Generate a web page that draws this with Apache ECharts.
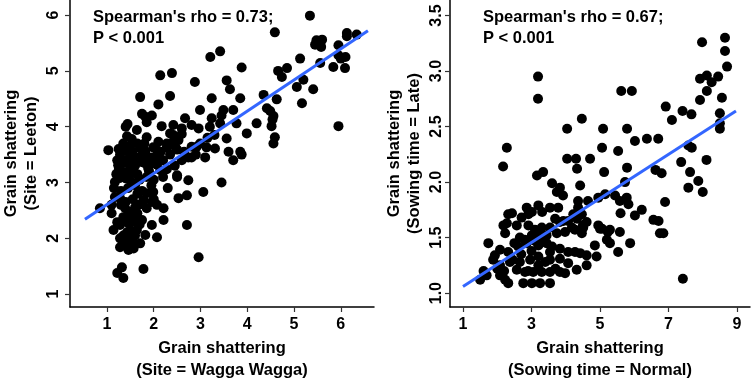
<!DOCTYPE html>
<html>
<head>
<meta charset="utf-8">
<script src="https://cdn.jsdelivr.net/npm/echarts@6/dist/echarts.min.js"></script>
<style>
  html, body { margin: 0; padding: 0; background: #fff; }
  #main { width: 751px; height: 379px; }
</style>
</head>
<body>
<div id="main"></div>
<script>
// left panel: Wagga Wagga (x) vs Leeton (y)
const siteShatter = [
  [5.34,5.99],[4.59,5.69],[6.13,5.68],[6.13,5.62],[6.34,5.65],
  [5.48,5.55],[5.6,5.56],[5.55,5.48],[5.45,5.47],[5.58,5.43],[5.95,5.46],
  [5.95,5.28],[6.1,5.25],[6.0,5.22],[5.56,5.14],[5.84,5.07],[6.09,5.05],
  [3.21,5.25],[3.42,5.35],[5.13,5.22],[3.88,5.06],[4.66,5.0],[4.85,5.05],[4.74,4.89],
  [2.14,4.92],[2.39,4.96],[2.88,4.8],[3.56,4.83],[3.63,4.67],[5.06,4.71],[5.41,4.67],[5.2,4.84],
  [4.35,4.57],[1.71,4.53],[2.35,4.55],[3.24,4.51],[3.85,4.51],[4.63,4.49],[5.17,4.42],[2.1,4.4],
  [2.99,4.3],[3.49,4.3],[3.7,4.3],[4.42,4.33],[4.49,4.28],[4.56,4.19],[4.54,4.13],
  [1.75,4.23],[1.82,4.18],[1.96,4.2],[3.45,4.2],[2.67,4.15],[3.24,4.15],
  [1.44,4.05],[1.4,4.0],[1.85,4.08],[2.17,4.01],[2.42,4.03],[2.81,4.03],[2.96,3.97],[3.2,4.0],
  [3.42,4.06],[3.77,4.06],[4.2,4.06],[4.52,4.01],[5.95,4.01],
  [1.64,3.94],[2.6,3.97],[3.99,3.88],[3.56,3.79],[4.59,3.81],[4.56,3.7],
  [1.43,3.83],[1.53,3.78],[1.85,3.81],[2.35,3.88],[2.42,3.85],[2.6,3.87],[2.1,3.73],[2.28,3.7],
  [2.42,3.73],[2.53,3.76],[2.99,3.7],
  [1.03,3.58],[1.35,3.7],[1.49,3.64],[1.42,3.56],[1.71,3.62],[1.82,3.56],[1.99,3.63],[2.07,3.58],
  [2.28,3.63],[2.46,3.64],[2.5,3.59],[2.81,3.64],[2.92,3.64],[3.13,3.63],[3.31,3.61],[3.6,3.55],
  [3.85,3.55],[3.88,3.5],
  [1.28,3.5],[1.53,3.45],[1.71,3.46],[1.85,3.46],[2.74,3.45],[2.81,3.45],[3.7,3.4],
  [1.22,3.4],[1.35,3.35],[1.71,3.37],[1.99,3.35],[2.07,3.32],[1.49,3.3],[1.6,3.3],
  [1.25,3.22],[1.35,3.19],[1.56,3.22],[2.14,3.22],[2.28,3.24],[2.5,3.13],[2.74,3.04],[3.45,3.0],
  [1.17,3.01],[1.42,3.07],[1.53,3.01],
  [1.24,3.31],[1.6,3.4],[1.92,3.37],[1.88,3.26],[1.39,3.17],[1.54,3.22],[1.28,3.08],[2.2,3.1],
  [2.5,3.1],[3.06,2.83],[2.71,2.77],[2.53,2.72],
  [0.85,2.54],[1.17,2.74],[1.28,2.72],[1.1,2.45],[1.39,2.54],[1.5,2.47],[1.35,2.38],[1.57,2.36],
  [1.22,2.29],[1.28,2.24],[1.46,2.27],[1.75,2.33],[1.14,2.15],[1.43,2.11],[1.64,2.15],[1.96,2.24],
  [2.21,2.33],[2.71,2.24],[1.82,2.06],[2.07,2.02],[1.28,2.0],[1.46,1.97],[1.57,1.91],[1.71,1.91],
  [1.28,1.84],[1.46,1.79],[1.57,1.82],[2.96,1.66],[1.32,1.48],[1.22,1.38],[1.35,1.29],[1.78,1.45],
  [1.78,2.68],[1.85,2.81],[1.99,2.83],[1.96,2.65],[2.07,2.6],[2.21,2.54],[1.68,2.6],[1.85,2.54],
  [1.45,2.9],[1.6,2.95],[1.75,2.85],[1.3,2.85],[1.55,2.7],[1.65,2.8],[1.4,2.65],[1.7,3.05],
  [1.85,3.1],[1.95,2.95],[1.5,3.15],[1.65,3.15],[1.3,2.6],[1.6,2.55],[1.45,2.4],[1.65,2.45],
  [1.5,2.15],[1.35,2.05],[1.6,2.05],[1.4,1.9],[1.7,2.25],[1.55,2.3],[1.9,3.2],[2.0,3.05],
  [1.8,3.35],[1.4,3.4],[1.55,3.55],[1.65,3.7],[1.8,3.7],[1.95,3.45],[2.05,3.45],[2.15,3.55],
  [2.2,3.4],[1.25,3.6],[1.2,3.15],[1.15,2.9],[1.1,2.6],[2.0,2.7],[2.3,2.9],[2.45,3.3],
  [2.6,3.4],[2.9,3.5],[3.1,3.45],[2.35,3.5],[2.65,3.55],[3.15,3.8],[3.3,3.85]
];
// fitted line end points
const siteFit = [[0.53,2.34],[6.58,5.72]];

// right panel: normal (x) vs late (y) sowing
const sowShatter = [
  [8.65,3.30],[7.98,3.26],[8.65,3.18],[8.71,3.04],
  [3.19,2.95],[3.19,2.75],
  [7.92,2.93],[8.12,2.96],[8.26,2.90],[8.45,2.95],[8.12,2.82],[7.92,2.74],[8.56,2.76],
  [5.62,2.82],[5.93,2.82],[6.92,2.68],[7.41,2.64],[7.67,2.61],[8.5,2.62],[8.5,2.53],[8.5,2.48],
  [4.47,2.57],[7.1,2.56],[4.04,2.48],[5.09,2.48],[5.79,2.48],[6.02,2.37],[6.37,2.39],[6.7,2.39],
  [2.28,2.31],[2.17,2.14],[5.06,2.31],[7.58,2.33],[7.68,2.31],
  [4.04,2.21],[4.3,2.21],[4.71,2.21],[5.53,2.28],[4.33,2.12],[5.79,2.13],[6.62,2.11],[6.8,2.08],
  [8.11,2.2],[7.37,2.18],[3.16,2.06],[3.34,2.09],[3.6,1.99],[3.83,1.95],[4.42,1.97],[5.12,2.09],
  [5.73,2.0],[7.63,2.09],[7.87,2.01],[7.58,1.95],[8.0,1.91],
  [3.74,1.91],[3.92,1.88],[4.65,1.83],[5.15,1.89],[5.44,1.88],[4.36,1.83],[4.36,1.77],[4.95,1.86],
  [5.58,1.83],[5.78,1.86],[5.83,1.80],[6.9,1.82],[6.02,1.70],[6.22,1.75],[5.6,1.72],[6.56,1.66],
  [6.71,1.65],[6.75,1.54],[6.85,1.54],[5.0,1.58],[5.29,1.57],[5.58,1.55],[5.2,1.48],[5.29,1.45],
  [5.88,1.45],[5.53,1.37],[7.42,1.13],
  [1.74,1.45],[2.08,1.39],[1.93,1.34],[2.32,1.37],[2.61,1.42],[2.86,1.45],[3.2,1.43],[3.44,1.45],
  [3.54,1.37],[3.83,1.40],[4.07,1.37],[4.27,1.37],[4.42,1.36],[4.61,1.34],[4.85,1.43],[4.9,1.33],
  [1.88,1.30],[2.08,1.25],[2.37,1.28],[2.66,1.28],[2.96,1.30],[3.2,1.33],[3.54,1.30],
  [3.83,1.31],[4.07,1.27],[4.32,1.21],[4.61,1.25],
  [1.5,1.12],[1.69,1.16],[2.08,1.16],[2.23,1.12],[2.32,1.09],
  [2.57,1.21],[2.81,1.19],[3.05,1.19],[3.3,1.19],[3.54,1.19],[3.83,1.19],[3.98,1.18],
  [2.76,1.09],[3.01,1.09],[3.25,1.09],[3.54,1.09],
  [2.18,1.61],[2.57,1.61],[2.91,1.61],[3.3,1.59],[3.54,1.59],[3.83,1.64],[3.93,1.65],
  [4.22,1.71],[4.47,1.71],[4.61,1.64],[4.51,1.59],[4.95,1.61],
  [2.23,1.54],[2.66,1.50],[3.01,1.52],[3.2,1.54],[3.44,1.52],[3.74,1.54],[3.98,1.55],
  [2.32,1.71],[2.71,1.68],[2.91,1.71],
  [2.86,1.77],[3.2,1.79],[3.54,1.77],[3.78,1.77],
  [2.8,1.48],[3.1,1.47],[3.3,1.5],[3.0,1.38],[3.2,1.25],[2.9,1.2],[3.4,1.28],[3.1,1.57],
  [2.7,1.35],[3.6,1.42],[3.7,1.22],[2.5,1.45],[2.45,1.3],[2.2,1.2],[2.0,1.22],[1.6,1.2],
  [4.27,1.57],[4.47,1.54],[4.18,1.59],[4.5,1.61],[4.07,1.65],[4.33,1.67],[3.31,1.73],[3.69,1.67],
  [2.28,1.63],[2.43,1.72],[3.01,1.73],[5.06,1.58],[5.23,1.55]
];
const sowFit = [[1.0,1.06],[8.97,2.64]];

const leftXTicks = [1, 2, 3, 4, 5, 6];
const leftYTicks = [1, 2, 3, 4, 5, 6];
const rightXTicks = [1, 3, 5, 7, 9];
const rightYTicks = [1.0, 1.5, 2.0, 2.5, 3.0, 3.5];

const font = "'Liberation Sans', Arial, sans-serif";

var chartDom = document.getElementById('main');
var myChart = echarts.init(chartDom, null, { renderer: 'canvas' });

function xAx(grid, min, max, ticks, name) {
  return {
    gridIndex: grid, type: 'value', min: min, max: max,
    name: name, nameLocation: 'middle', nameGap: 30,
    nameTextStyle: { fontFamily: font, fontWeight: 'bold', fontSize: 16.5, color: '#000', lineHeight: 22 },
    axisLine: { show: true, lineStyle: { color: '#000', width: 1.5 } },
    axisTick: { show: true, length: 5, customValues: ticks, lineStyle: { color: '#333', width: 1.2 } },
    axisLabel: { customValues: ticks, margin: 10, fontFamily: font, fontWeight: 'bold', fontSize: 16, color: '#000' },
    splitLine: { show: false }
  };
}
function yAx(grid, min, max, ticks, name, fmt, gap, margin) {
  return {
    gridIndex: grid, type: 'value', min: min, max: max,
    name: name, nameLocation: 'middle', nameGap: gap, nameRotate: 90,
    nameTextStyle: { fontFamily: font, fontWeight: 'bold', fontSize: 16.5, color: '#000', lineHeight: 20 },
    axisLine: { show: true, lineStyle: { color: '#000', width: 1.5 } },
    axisTick: { show: true, length: 5, customValues: ticks, lineStyle: { color: '#333', width: 1.2 } },
    axisLabel: { customValues: ticks, rotate: 90, margin: margin, fontFamily: font, fontWeight: 'bold', fontSize: 16, color: '#000', formatter: fmt },
    splitLine: { show: false }
  };
}

var option = {
  animation: false,
  backgroundColor: '#fff',
  grid: [
    { left: 70, top: 0, width: 304, height: 307, outerBoundsMode: 'none' },
    { left: 450, top: 0, width: 300, height: 307, outerBoundsMode: 'none' }
  ],
  xAxis: [
    xAx(0, 0.21, 6.71, leftXTicks, 'Grain shattering\n(Site = Wagga Wagga)'),
    xAx(1, 0.62, 9.38, rightXTicks, 'Grain shattering\n(Sowing time = Normal)')
  ],
  yAxis: [
    yAx(0, 0.77, 6.27, leftYTicks, 'Grain shattering\n(Site = Leeton)', v => String(v), 29, 8),
    yAx(1, 0.875, 3.64, rightYTicks, 'Grain shattering\n(Sowing time = Late)', v => v.toFixed(1), 26, 5)
  ],
  graphic: [
    { type: 'text', left: 93, top: 7,
      style: { text: "Spearman's rho = 0.73;\nP < 0.001", font: 'bold 16.5px ' + font, fill: '#000', lineHeight: 21 } },
    { type: 'text', left: 483, top: 7,
      style: { text: "Spearman's rho = 0.67;\nP < 0.001", font: 'bold 16.5px ' + font, fill: '#000', lineHeight: 21 } }
  ],
  series: [
    { type: 'scatter', xAxisIndex: 0, yAxisIndex: 0, data: siteShatter, symbolSize: 10,
      itemStyle: { color: '#000', opacity: 1 } },
    { type: 'line', xAxisIndex: 0, yAxisIndex: 0, data: siteFit, showSymbol: false, z: 5,
      lineStyle: { color: '#3366FF', width: 3 } },
    { type: 'scatter', xAxisIndex: 1, yAxisIndex: 1, data: sowShatter, symbolSize: 10,
      itemStyle: { color: '#000', opacity: 1 } },
    { type: 'line', xAxisIndex: 1, yAxisIndex: 1, data: sowFit, showSymbol: false, z: 5,
      lineStyle: { color: '#3366FF', width: 3 } }
  ]
};
option && myChart.setOption(option);
</script>
</body>
</html>
